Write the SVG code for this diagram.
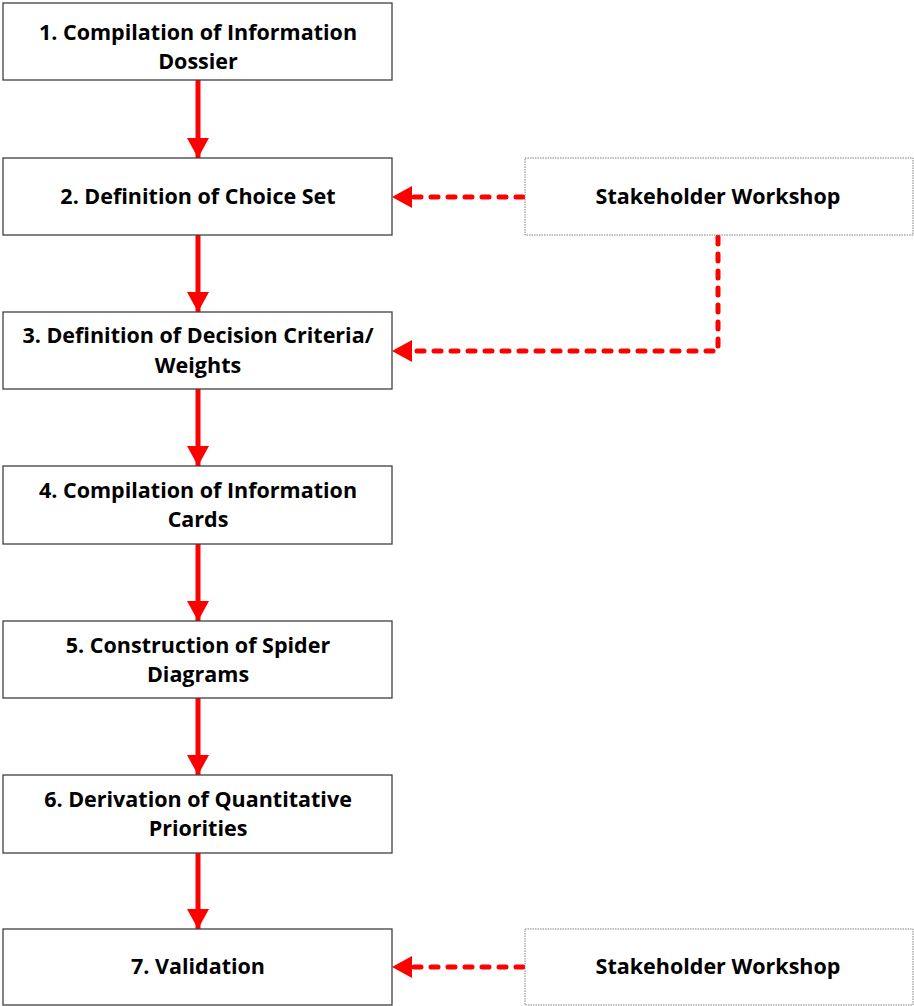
<svg xmlns="http://www.w3.org/2000/svg" width="914" height="1006" viewBox="0 0 914 1006">
<style>
.box{fill:#fff;stroke:#404040;stroke-width:1.3}
.sw{fill:#fff;stroke:#808080;stroke-width:1;stroke-dasharray:1.5 1}
text{font-family:"Open Sans","Liberation Sans",sans-serif;font-weight:bold;font-size:21.5px;fill:#000;text-anchor:middle}
.solid{stroke:#ff0000;stroke-width:5;fill:none}
.dash{stroke:#ff0000;stroke-width:5;fill:none;stroke-dasharray:7 10;stroke-linecap:round}
</style>
<defs>
<marker id="ah" markerUnits="userSpaceOnUse" markerWidth="20" markerHeight="22" refX="20" refY="11" orient="auto"><path d="M0,0 L20,11 L0,22 Z" fill="#ff0000"/></marker>
</defs>
<g id="connectors">
<line class="solid" x1="198" y1="80" x2="198" y2="158" marker-end="url(#ah)"/>
<line class="solid" x1="198" y1="235" x2="198" y2="312" marker-end="url(#ah)"/>
<line class="solid" x1="198" y1="389" x2="198" y2="466" marker-end="url(#ah)"/>
<line class="solid" x1="198" y1="544" x2="198" y2="621" marker-end="url(#ah)"/>
<line class="solid" x1="198" y1="698" x2="198" y2="775" marker-end="url(#ah)"/>
<line class="solid" x1="198" y1="853" x2="198" y2="929" marker-end="url(#ah)"/>
<path class="dash" d="M523,197 L408,197"/>
<path d="M412,186 L392,197 L412,208 Z" fill="#ff0000"/>
<path class="dash" d="M718,237 L718,351 L408,351"/>
<path d="M412,340 L392,351 L412,362 Z" fill="#ff0000"/>
<path class="dash" d="M523,967 L408,967"/>
<path d="M412,956 L392,967 L412,978 Z" fill="#ff0000"/>
</g>
<g id="n1"><rect class="box" x="3" y="3" width="389" height="77"/><text x="198" y="40">1. Compilation of Information</text><text x="198" y="69">Dossier</text></g>
<g id="n2"><rect class="box" x="3" y="158" width="389" height="77"/><text x="198" y="204">2. Definition of Choice Set</text></g>
<g id="n3"><rect class="box" x="3" y="312" width="389" height="77"/><text x="198" y="343">3. Definition of Decision Criteria/</text><text x="198" y="373">Weights</text></g>
<g id="n4"><rect class="box" x="3" y="466" width="389" height="78"/><text x="198" y="498">4. Compilation of Information</text><text x="198" y="527">Cards</text></g>
<g id="n5"><rect class="box" x="3" y="621" width="389" height="77"/><text x="198" y="653">5. Construction of Spider</text><text x="198" y="682">Diagrams</text></g>
<g id="n6"><rect class="box" x="3" y="775" width="389" height="78"/><text x="198" y="807">6. Derivation of Quantitative</text><text x="198" y="836">Priorities</text></g>
<g id="n7"><rect class="box" x="3" y="929" width="389" height="76"/><text x="198" y="974">7. Validation</text></g>
<g id="sw1"><rect class="sw" x="525" y="158" width="388" height="77"/><text x="718" y="204">Stakeholder Workshop</text></g>
<g id="sw2"><rect class="sw" x="525" y="929" width="388" height="76"/><text x="718" y="974">Stakeholder Workshop</text></g>
</svg>
